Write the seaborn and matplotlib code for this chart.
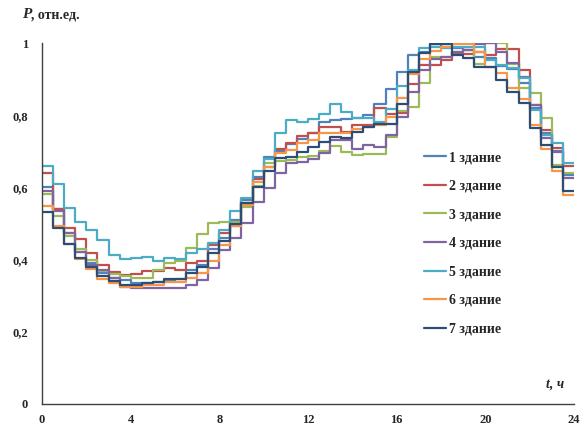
import numpy as np
import pandas as pd
import matplotlib
matplotlib.use("Agg")
import matplotlib.pyplot as plt
import seaborn as sns

hours = [i * 0.5 for i in range(49)]
labels = ["1 здание", "2 здание", "3 здание", "4 здание", "5 здание", "6 здание", "7 здание"]

b1 = [0.600, 0.540, 0.475, 0.422, 0.390, 0.362, 0.348, 0.343, 0.335, 0.336, 0.338, 0.341,
      0.345, 0.371, 0.385, 0.428, 0.460, 0.510, 0.565, 0.630, 0.683, 0.700, 0.720, 0.735,
      0.750, 0.782, 0.787, 0.789, 0.793, 0.800, 0.830, 0.872, 0.919, 0.968, 0.975, 0.996,
      0.990, 0.985, 0.980, 0.960, 0.958, 0.935, 0.927, 0.890, 0.819, 0.750, 0.700, 0.635]
b2 = [0.639, 0.539, 0.488, 0.457, 0.419, 0.385, 0.365, 0.357, 0.360, 0.368, 0.368, 0.376,
      0.371, 0.391, 0.397, 0.440, 0.474, 0.493, 0.558, 0.622, 0.656, 0.705, 0.724, 0.743,
      0.750, 0.768, 0.766, 0.754, 0.773, 0.773, 0.821, 0.803, 0.805, 0.886, 0.939, 0.939,
      0.953, 0.971, 0.970, 0.975, 0.968, 0.983, 0.983, 0.925, 0.828, 0.759, 0.708, 0.660]
b3 = [0.581, 0.522, 0.465, 0.428, 0.399, 0.369, 0.360, 0.355, 0.350, 0.350, 0.371, 0.390,
      0.397, 0.433, 0.471, 0.502, 0.505, 0.505, 0.545, 0.604, 0.667, 0.672, 0.676, 0.685,
      0.687, 0.701, 0.715, 0.699, 0.690, 0.693, 0.693, 0.740, 0.812, 0.824, 0.890, 0.962,
      0.962, 0.975, 0.980, 0.941, 0.999, 0.999, 0.941, 0.875, 0.861, 0.791, 0.662, 0.641]
b4 = [0.591, 0.535, 0.473, 0.422, 0.385, 0.370, 0.348, 0.325, 0.320, 0.320, 0.320, 0.320,
      0.320, 0.330, 0.343, 0.376, 0.427, 0.459, 0.502, 0.560, 0.599, 0.641, 0.667, 0.671,
      0.680, 0.695, 0.731, 0.731, 0.706, 0.717, 0.713, 0.745, 0.796, 0.865, 0.925, 0.956,
      0.962, 0.976, 0.980, 0.996, 0.999, 0.976, 0.944, 0.907, 0.828, 0.736, 0.699, 0.627]
b5 = [0.659, 0.609, 0.542, 0.505, 0.482, 0.454, 0.413, 0.401, 0.404, 0.406, 0.397, 0.405,
      0.401, 0.419, 0.430, 0.445, 0.482, 0.535, 0.571, 0.645, 0.678, 0.750, 0.787, 0.780,
      0.789, 0.802, 0.831, 0.810, 0.793, 0.793, 0.782, 0.816, 0.882, 0.925, 0.987, 0.990,
      0.985, 0.990, 0.990, 0.990, 0.953, 0.939, 0.930, 0.902, 0.815, 0.745, 0.722, 0.667]
b6 = [0.549, 0.493, 0.442, 0.403, 0.373, 0.345, 0.336, 0.325, 0.325, 0.330, 0.331, 0.339,
      0.339, 0.350, 0.362, 0.395, 0.440, 0.493, 0.551, 0.616, 0.656, 0.694, 0.704, 0.722,
      0.731, 0.750, 0.752, 0.752, 0.761, 0.768, 0.773, 0.796, 0.847, 0.913, 0.956, 0.978,
      0.990, 0.996, 0.996, 0.975, 0.934, 0.916, 0.875, 0.844, 0.773, 0.706, 0.645, 0.579]
b7 = [0.533, 0.488, 0.442, 0.405, 0.379, 0.355, 0.341, 0.330, 0.331, 0.334, 0.337, 0.345,
      0.345, 0.364, 0.380, 0.417, 0.452, 0.498, 0.558, 0.602, 0.646, 0.681, 0.685, 0.699,
      0.713, 0.727, 0.740, 0.736, 0.754, 0.766, 0.777, 0.775, 0.830, 0.920, 0.971, 0.996,
      0.996, 0.967, 0.959, 0.934, 0.934, 0.898, 0.865, 0.833, 0.764, 0.717, 0.657, 0.590]

series = [b1, b2, b3, b4, b5, b6, b7]
colors = ["#4F81BD", "#C0504D", "#9BBB59", "#8064A2", "#4BACC6", "#F79646", "#2C4D75"]

rows = []
for lab, vals in zip(labels, series):
    v = list(vals) + [vals[-1]]
    for h, y in zip(hours, v):
        rows.append({"t": h, "P": y, "b": lab})
df = pd.DataFrame(rows)

sns.set_style("white")
plt.rcParams["font.family"] = ["Liberation Serif", "DejaVu Serif"]

fig = plt.figure(figsize=(5.85, 4.26), dpi=100)
ax = fig.add_axes([42 / 585, 1 - 404 / 426, 532 / 585, 361 / 426])

sns.lineplot(data=df, x="t", y="P", hue="b", palette=colors, drawstyle="steps-post",
             linewidth=1.6, ax=ax, legend=True, estimator=None, sort=False)

ax.set_xlim(0, 24)
ax.set_ylim(0, 1)
ax.set_xticks([0, 4, 8, 12, 16, 20, 24])
ax.set_yticks([0, 0.2, 0.4, 0.6, 0.8, 1.0])
ax.set_xticklabels(["0", "4", "8", "12", "16", "20", "24"])
ax.set_yticklabels(["0", "0,2", "0,4", "0,6", "0,8", "1"])
for lbl in ax.get_xticklabels() + ax.get_yticklabels():
    lbl.set_fontweight("bold")
    lbl.set_fontsize(9)
ax.tick_params(axis="both", direction="out", length=4, width=1, color="#404040")
ax.tick_params(axis="y", pad=6)
ax.tick_params(axis="x", pad=3)
for s in ["top", "right"]:
    ax.spines[s].set_visible(False)
for s in ["left", "bottom"]:
    ax.spines[s].set_color("#404040")
    ax.spines[s].set_linewidth(1)
ax.set_xlabel("")
ax.set_ylabel("")

leg = ax.legend(loc="center left", bbox_to_anchor=(0.695, 0.445), frameon=False,
                handlelength=1.6, handletextpad=0.15, labelspacing=1.12,
                prop={"weight": "bold", "size": 10})

fig.text(22 / 585, 1 - 15 / 426, "P", fontsize=11, fontweight="bold", fontstyle="italic",
         va="center", ha="left")
fig.text(31 / 585, 1 - 15 / 426, ", отн.ед.", fontsize=10, fontweight="bold",
         va="center", ha="left")
ax.text(0.965, 0.055, "t, ч", transform=ax.transAxes, fontsize=10, fontweight="bold",
        fontstyle="italic", ha="center", va="center")

fig.savefig("out.png", dpi=100)
